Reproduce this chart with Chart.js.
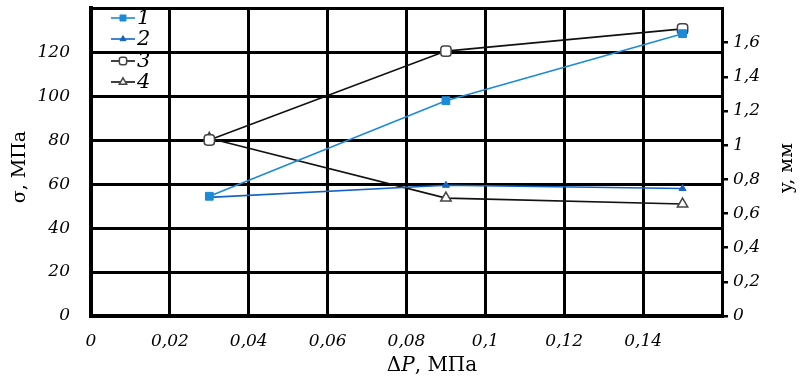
<!DOCTYPE html>
<html><head><meta charset="utf-8">
<script src="https://cdn.jsdelivr.net/npm/chart.js@4"></script>
<style>html,body{margin:0;padding:0;background:#fff}</style>
</head><body>
<canvas id="c" width="800" height="385"></canvas>
<script>
// ---- data ----
const dP = [0.03, 0.09, 0.15];           // ΔP, МПа
const sigma1 = [54.5, 98, 128.5];         // series 1 (σ, МПа)
const sigma2 = [54, 59.5, 58];            // series 2 (σ, МПа)
const y3 = [1.03, 1.55, 1.68];            // series 3 (y, мм)
const y4 = [1.04, 0.69, 0.655];           // series 4 (y, мм)
const seriesLabels = ['1', '2', '3', '4'];
const yTitle = 'σ, МПа';
const y2Title = 'y, мм';

const pts = (xs, ys) => xs.map((x, i) => ({x: x, y: ys[i]}));
const tickFontX = {family: 'DejaVu Serif', style: 'italic', size: 17};
const tickFontY = {family: 'DejaVu Serif', style: 'italic', size: 17, lineHeight: 0.4};
const comma = v => String(+(+v).toFixed(2)).replace('.', ',');

const datasets = [
  {label: seriesLabels[0], data: pts(dP, sigma1), yAxisID: 'y', borderColor: '#1c8ad6', backgroundColor: '#1c8ad6',
   pointStyle: 'rect', pointRadius: 5.5, pointBorderWidth: 1, borderWidth: 1.6},
  {label: seriesLabels[1], data: pts(dP, sigma2), yAxisID: 'y', borderColor: '#1463c4', backgroundColor: '#1463c4',
   pointStyle: 'triangle', pointRadius: 4, pointBorderWidth: 1, borderWidth: 1.6},
  {label: seriesLabels[2], data: pts(dP, y3), yAxisID: 'y2', borderColor: '#111', backgroundColor: '#fff',
   pointBorderColor: '#444', pointStyle: 'rectRounded', pointRadius: 6, pointBorderWidth: 1.5, borderWidth: 1.6},
  {label: seriesLabels[3], data: pts(dP, y4), yAxisID: 'y2', borderColor: '#111', backgroundColor: '#fff',
   pointBorderColor: '#444', pointStyle: 'triangle', pointRadius: 6, pointBorderWidth: 1.5, borderWidth: 1.6}
];

const decor = {
  id: 'decor',
  afterDraw(chart) {
    const ctx = chart.ctx;
    ctx.save();
    ctx.fillStyle = '#000';
    ctx.font = '19px "DejaVu Serif"';
    ctx.textAlign = 'center'; ctx.textBaseline = 'middle';
    ctx.save(); ctx.translate(20, 167); ctx.rotate(-Math.PI / 2); ctx.fillText(yTitle, 0, 0); ctx.restore();
    ctx.save(); ctx.translate(787, 168); ctx.rotate(-Math.PI / 2); ctx.fillText(y2Title, 0, 0); ctx.restore();
    // x axis title with italic P
    const a = 'Δ', p = 'P', r = ', МПа';
    ctx.font = '20px "DejaVu Serif"'; const wa = ctx.measureText(a).width, wr = ctx.measureText(r).width;
    ctx.font = 'italic 20px "DejaVu Serif"'; const wp = ctx.measureText(p).width;
    let x0 = 432 - (wa + wp + wr) / 2;
    ctx.textAlign = 'left';
    ctx.font = '20px "DejaVu Serif"'; ctx.fillText(a, x0, 366);
    ctx.font = 'italic 20px "DejaVu Serif"'; ctx.fillText(p, x0 + wa, 366);
    ctx.font = '20px "DejaVu Serif"'; ctx.fillText(r, x0 + wa + wp, 366);
    // legend
    const rows = [18, 39, 61, 82];
    chart.data.datasets.forEach((ds, i) => {
      const y = rows[i];
      ctx.strokeStyle = ds.borderColor; ctx.lineWidth = 1.6;
      ctx.beginPath(); ctx.moveTo(111, y); ctx.lineTo(135, y); ctx.stroke();
      ctx.fillStyle = ds.backgroundColor;
      ctx.strokeStyle = ds.pointBorderColor || ds.borderColor;
      ctx.lineWidth = ds.pointBorderWidth;
      Chart.helpers.drawPoint(ctx, {pointStyle: ds.pointStyle, radius: Math.min(ds.pointRadius, 5) * 0.85, rotation: 0, borderWidth: ds.pointBorderWidth}, 123, y);
      ctx.fillStyle = '#000';
      ctx.font = 'italic 21px "DejaVu Serif"'; ctx.textAlign = 'left'; ctx.textBaseline = 'middle';
      ctx.fillText(ds.label, 137, y + 1);
    });
    ctx.restore();
  }
};

new Chart(document.getElementById('c'), {
  type: 'line',
  data: {datasets: datasets},
  plugins: [decor],
  options: {
    responsive: false, animation: false,
    layout: {padding: {top: 8, left: 0, right: 0, bottom: 0}},
    plugins: {legend: {display: false}, tooltip: {enabled: false}},
    scales: {
      x: {type: 'linear', min: 0, max: 0.16,
        afterFit: s => { s.height = 69; },
        grid: {color: '#000', lineWidth: 3, drawTicks: false},
        border: {color: '#000', width: 4},
        ticks: {stepSize: 0.02, color: '#000', font: tickFontX, padding: 15, maxRotation: 0,
          callback: v => Math.abs(v - 0.16) < 1e-9 ? '' : comma(v)}},
      y: {position: 'left', min: 0, max: 140,
        afterFit: s => { s.width = 91; },
        grid: {color: '#000', lineWidth: 3, drawTicks: true, tickLength: 21, tickColor: 'rgba(0,0,0,0)'},
        border: {color: '#000', width: 4},
        ticks: {stepSize: 20, color: '#000', font: tickFontY, padding: 0,
          callback: v => v >= 140 ? '' : String(v)}},
      y2: {position: 'right', min: 0, max: 1.8,
        afterFit: s => { s.width = 78; },
        grid: {drawOnChartArea: false, drawTicks: true, tickLength: 6, lineWidth: 2.5,
          color: c => (c.tick && c.tick.value >= 1.79) ? 'rgba(0,0,0,0)' : '#000'},
        border: {color: '#000', width: 3},
        ticks: {stepSize: 0.2, color: '#000', font: tickFontY, padding: 5,
          callback: v => v >= 1.79 ? '' : comma(Math.round(v * 10) / 10)}}
    }
  }
});
</script>
</body></html>
